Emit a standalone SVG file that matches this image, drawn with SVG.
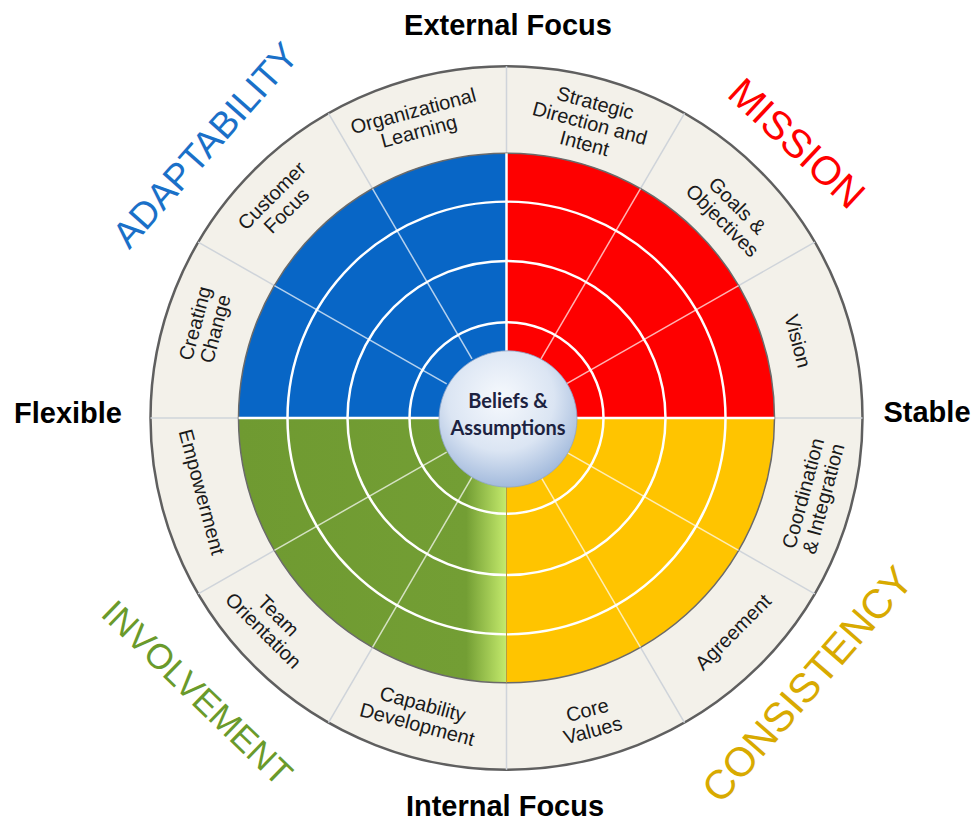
<svg xmlns="http://www.w3.org/2000/svg" width="975" height="823" viewBox="0 0 975 823">
<defs>
  <linearGradient id="gGreen" gradientUnits="userSpaceOnUse" x1="-268" y1="0" x2="0" y2="0">
    <stop offset="0" stop-color="#6f9a31"/>
    <stop offset="0.85" stop-color="#739e34"/>
    <stop offset="1" stop-color="#c4ea6c"/>
  </linearGradient>
  <radialGradient id="gCore" cx="0.45" cy="0.35" r="0.7">
    <stop offset="0" stop-color="#f6f9fd"/>
    <stop offset="0.55" stop-color="#dbe5f3"/>
    <stop offset="1" stop-color="#98b2d8"/>
  </radialGradient>
</defs>
<style>
  .lbl{font-family:"Liberation Sans",Arial,sans-serif;font-size:20px;fill:#1a1a1a;text-anchor:middle}
  .axis{font-family:"Liberation Sans",Arial,sans-serif;font-size:29px;font-weight:bold;fill:#000;text-anchor:middle}
  .big{font-family:"Liberation Sans",Arial,sans-serif;text-anchor:middle}
  .ring{fill:none;stroke:#fff;stroke-width:2.5}
  .spk{stroke:#fff;stroke-opacity:0.7;stroke-width:1.5}
  .spko{stroke:#cfd4da;stroke-width:1.5}
  .core{font-family:Lato,"Open Sans",sans-serif;font-size:20px;font-weight:bold;fill:#1c2240;text-anchor:middle}
</style>
<rect width="975" height="823" fill="#fff"/>

<g id="wheel" transform="translate(506.5 418) scale(1 0.988)">
  <circle r="356" fill="#f3f1ea" stroke="#5f5f5f" stroke-width="2.5"/>
  <g id="outer-dividers">
    <line x1="-356" y1="0" x2="356" y2="0" class="spko"/>
    <line x1="0" y1="-356" x2="0" y2="356" class="spko"/>
    <line x1="232.1" y1="-134" x2="308.3" y2="-178" class="spko"/>
    <line x1="134" y1="-232.1" x2="178" y2="-308.3" class="spko"/>
    <line x1="-134" y1="-232.1" x2="-178" y2="-308.3" class="spko"/>
    <line x1="-232.1" y1="-134" x2="-308.3" y2="-178" class="spko"/>
    <line x1="-232.1" y1="134" x2="-308.3" y2="178" class="spko"/>
    <line x1="-134" y1="232.1" x2="-178" y2="308.3" class="spko"/>
    <line x1="134" y1="232.1" x2="178" y2="308.3" class="spko"/>
    <line x1="232.1" y1="134" x2="308.3" y2="178" class="spko"/>
  </g>
  <g id="quadrant-adaptability"><path d="M0,0 L-268,0 A268,268 0 0 1 0,-268 Z" fill="#0866c6"/></g>
  <g id="quadrant-mission"><path d="M0,0 L0,-268 A268,268 0 0 1 268,0 Z" fill="#fe0000"/></g>
  <g id="quadrant-consistency"><path d="M0,0 L268,0 A268,268 0 0 1 0,268 Z" fill="#ffc400"/></g>
  <g id="quadrant-involvement"><path d="M0,0 L0,268 A268,268 0 0 1 -268,0 Z" fill="url(#gGreen)"/></g>
  <circle r="268" fill="none" stroke="#6a6a6a" stroke-width="1.5"/>
  <g id="inner-lines">
    <line x1="59.8" y1="-34.5" x2="232.1" y2="-134" class="spk"/>
    <line x1="34.5" y1="-59.8" x2="134" y2="-232.1" class="spk"/>
    <line x1="-34.5" y1="-59.8" x2="-134" y2="-232.1" class="spk"/>
    <line x1="-59.8" y1="-34.5" x2="-232.1" y2="-134" class="spk"/>
    <line x1="-59.8" y1="34.5" x2="-232.1" y2="134" class="spk"/>
    <line x1="-34.5" y1="59.8" x2="-134" y2="232.1" class="spk"/>
    <line x1="34.5" y1="59.8" x2="134" y2="232.1" class="spk"/>
    <line x1="59.8" y1="34.5" x2="232.1" y2="134" class="spk"/>
    <circle r="97" class="ring"/>
    <circle r="159" class="ring"/>
    <circle r="219" class="ring"/>
    <line x1="-268" y1="0" x2="268" y2="0" stroke="#fff" stroke-width="2.5"/>
    <line x1="0" y1="-268" x2="0" y2="0" stroke="#fff" stroke-width="2.5"/>
    <line x1="0" y1="0" x2="0" y2="268" stroke="#b79b3e" stroke-width="1"/>
  </g>
  <circle id="core-disc" cx="1.5" cy="1" r="69" fill="url(#gCore)" stroke="#8ea6c9" stroke-width="0.8"/>
</g>

<g id="core">
  <text class="core" x="508" y="408">Beliefs &amp;</text>
  <text class="core" x="508" y="435">Assumptions</text>
</g>

<g id="organizational-learning" transform="translate(416 121) rotate(-15)">
  <text class="lbl"><tspan x="0" y="-3.5">Organizational</tspan><tspan x="0" y="17.5">Learning</tspan></text>
</g>
<g id="customer-focus" transform="translate(279 203) rotate(-45)">
  <text class="lbl"><tspan x="0" y="-3.5">Customer</tspan><tspan x="0" y="17.5">Focus</tspan></text>
</g>
<g id="creating-change" transform="translate(205 326) rotate(-75)">
  <text class="lbl"><tspan x="0" y="-3.5">Creating</tspan><tspan x="0" y="17.5">Change</tspan></text>
</g>
<g id="strategic-direction" transform="translate(590 123) rotate(15)">
  <text class="lbl"><tspan x="0" y="-14">Strategic</tspan><tspan x="0" y="7">Direction and</tspan><tspan x="0" y="28">Intent</tspan></text>
</g>
<g id="goals-objectives" transform="translate(730 213) rotate(45)">
  <text class="lbl"><tspan x="0" y="-3.5">Goals &amp;</tspan><tspan x="0" y="17.5">Objectives</tspan></text>
</g>
<g id="vision" transform="translate(798 341) rotate(75)">
  <text class="lbl" x="0" y="7">Vision</text>
</g>
<g id="empowerment" transform="translate(202 492) rotate(75)">
  <text class="lbl" x="0" y="7">Empowerment</text>
</g>
<g id="team-orientation" transform="translate(271 623) rotate(45)">
  <text class="lbl"><tspan x="0" y="-3.5">Team</tspan><tspan x="0" y="17.5">Orientation</tspan></text>
</g>
<g id="capability-development" transform="translate(420 714) rotate(15)">
  <text class="lbl"><tspan x="0" y="-3.5">Capability</tspan><tspan x="0" y="17.5">Development</tspan></text>
</g>
<g id="core-values" transform="translate(590 720) rotate(-15)">
  <text class="lbl"><tspan x="0" y="-3.5">Core</tspan><tspan x="0" y="17.5">Values</tspan></text>
</g>
<g id="agreement" transform="translate(733 632) rotate(-45)">
  <text class="lbl" x="0" y="7">Agreement</text>
</g>
<g id="coordination-integration" transform="translate(813 496) rotate(-75)">
  <text class="lbl"><tspan x="0" y="-3.5">Coordination</tspan><tspan x="0" y="17.5">&amp; Integration</tspan></text>
</g>

<g id="trait-adaptability" transform="translate(205 145) rotate(-48.5)">
  <text class="big" x="0" y="13" font-size="37" fill="#1a70c8">ADAPTABILITY</text>
</g>
<g id="trait-mission" transform="translate(797 143) rotate(43)">
  <text class="big" x="0" y="14" font-size="40" fill="#ff0000">MISSION</text>
</g>
<g id="trait-involvement" transform="translate(197.5 692.5) rotate(44)">
  <text class="big" x="0" y="12.5" font-size="35" fill="#6a9a2b">INVOLVEMENT</text>
</g>
<g id="trait-consistency" transform="translate(807 684) rotate(-49)">
  <text class="big" x="0" y="14.5" font-size="41" fill="#d8aa00">CONSISTENCY</text>
</g>

<g id="axis-labels">
  <text class="axis" x="508" y="35">External Focus</text>
  <text class="axis" x="505" y="816">Internal Focus</text>
  <text class="axis" x="68" y="423">Flexible</text>
  <text class="axis" x="927" y="422">Stable</text>
</g>
</svg>
